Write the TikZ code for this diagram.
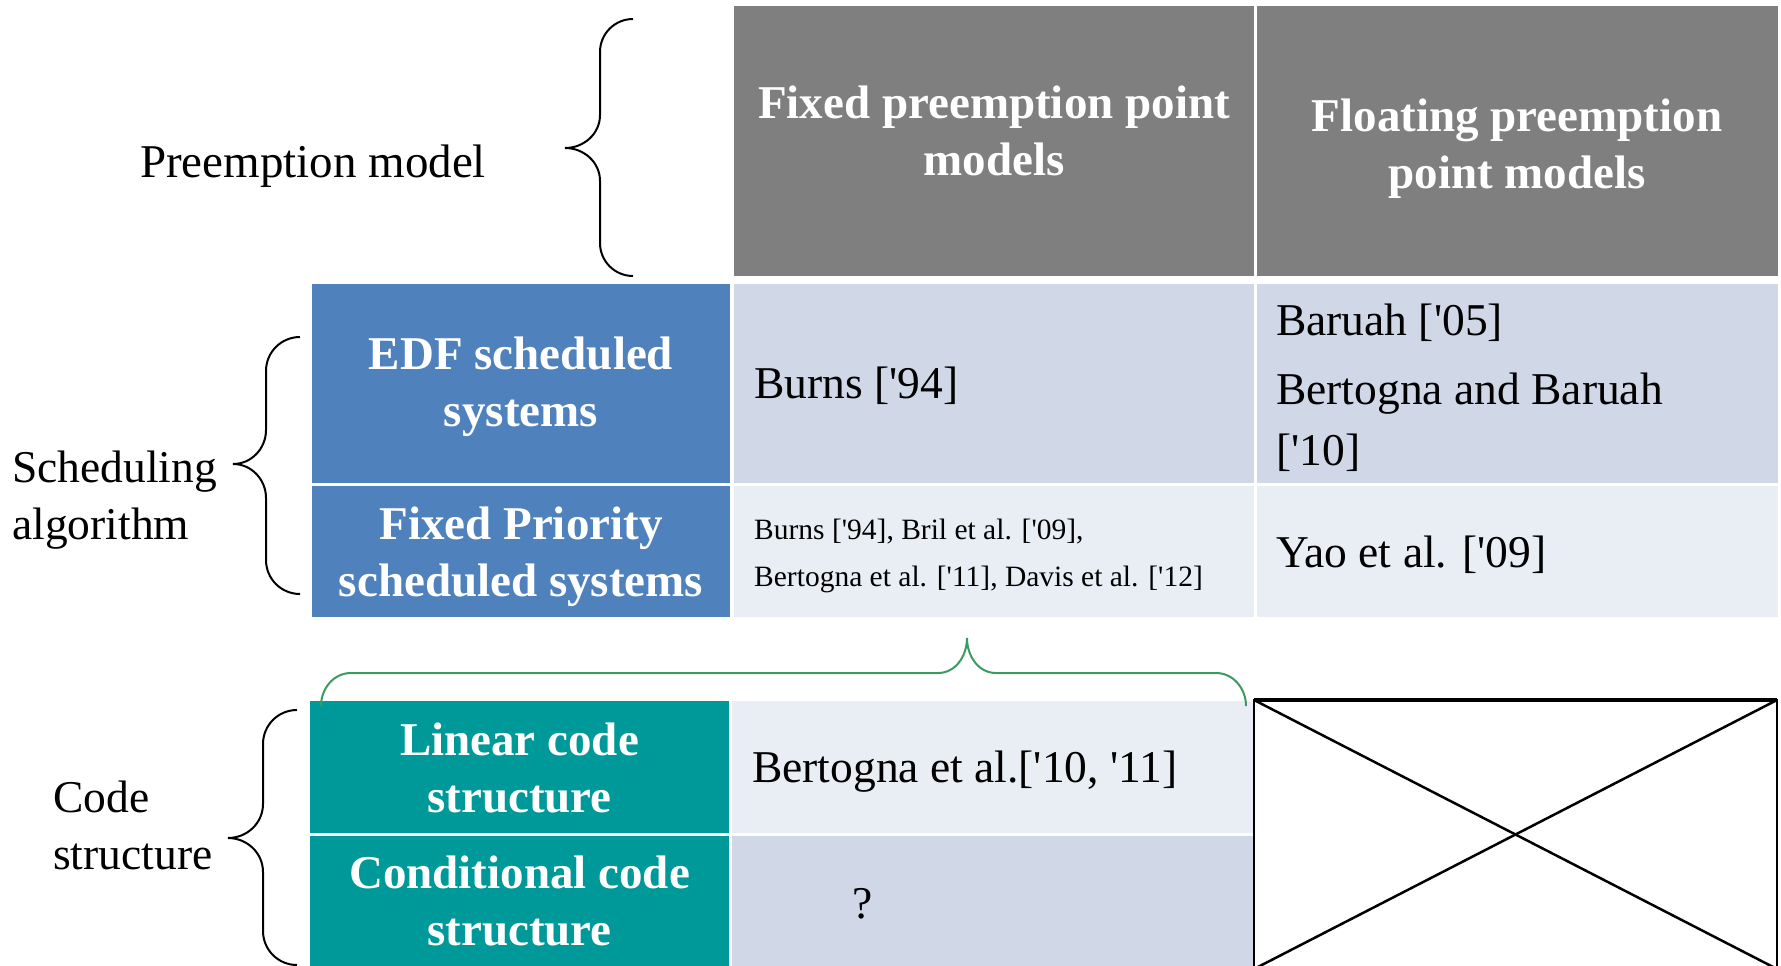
\documentclass[tikz,border=0pt]{standalone}
\usepackage{fontspec}
\setmainfont{Liberation Serif}[Ligatures=TeXOff]
\definecolor{hdrgray}{RGB}{127,127,127}
\definecolor{algblue}{RGB}{79,129,189}
\definecolor{codeteal}{RGB}{0,153,153}
\definecolor{cellA}{RGB}{208,216,232}
\definecolor{cellB}{RGB}{233,237,244}
\definecolor{bracegreen}{RGB}{58,154,98}
\begin{document}
\begin{tikzpicture}[x=1pt,y=-1pt,
  cell/.style={draw=none,inner sep=0pt,outer sep=0pt,anchor=north west},
  big/.style={font=\fontsize{47}{57}\selectfont,inner sep=0pt,anchor=base},
  head/.style={big,font=\fontsize{47}{57}\selectfont\bfseries,text=white,align=center},
  entry/.style={big,font=\fontsize{45.5}{57}\selectfont,anchor=base west,align=left},
  side/.style={big,font=\fontsize{45.5}{57}\selectfont,anchor=base west,align=left},
  small/.style={inner sep=0pt,anchor=base west,align=left,font=\fontsize{29.5}{47}\selectfont},
  brace/.style={draw=black,line width=2pt},
  gbrace/.style={draw=bracegreen,line width=2pt}]
\useasboundingbox (0,0) rectangle (1781,966);
\clip (0,0) rectangle (1781,966);

% header row
\node[cell,fill=hdrgray,minimum width=520pt,minimum height=270pt] (h1) at (734,6) {};
\node[cell,fill=hdrgray,minimum width=521pt,minimum height=270pt] (h2) at (1257,6) {};
% scheduling algorithm rows
\node[cell,fill=algblue,minimum width=418pt,minimum height=199pt] (r1) at (312,284) {};
\node[cell,fill=cellA,minimum width=520pt,minimum height=199pt] (c11) at (734,284) {};
\node[cell,fill=cellA,minimum width=521pt,minimum height=199pt] (c12) at (1257,284) {};
\node[cell,fill=algblue,minimum width=418pt,minimum height=131pt] (r2) at (312,486) {};
\node[cell,fill=cellB,minimum width=520pt,minimum height=131pt] (c21) at (734,486) {};
\node[cell,fill=cellB,minimum width=521pt,minimum height=131pt] (c22) at (1257,486) {};
% code structure rows
\node[cell,fill=codeteal,minimum width=419pt,minimum height=132pt] (r3) at (310,701) {};
\node[cell,fill=cellB,minimum width=522pt,minimum height=132pt] (c31) at (732,701) {};
\node[cell,fill=codeteal,minimum width=419pt,minimum height=135pt] (r4) at (310,836) {};
\node[cell,fill=cellA,minimum width=522pt,minimum height=135pt] (c41) at (732,836) {};

% crossed-out box
\node[cell,draw=black,line width=2.5pt,minimum width=523pt,minimum height=269pt] (xb) at (1254,700) {};
\draw[line width=2.5pt] (xb.north west) -- (xb.south east);
\draw[line width=2.5pt] (xb.south west) -- (xb.north east);
\draw[line width=3.5pt] (xb.north west) -- (xb.north east);

% header texts (anchored at the baseline of their last line)
\node[head] (th1) at (994,175) {Fixed preemption point\\models};
\node[head] (th2) at (1517,188) {Floating preemption\\point models};
\node[head] (tr1) at (521,426) {EDF scheduled\\systems};
\node[head] (tr2) at (521,596) {Fixed Priority\\scheduled systems};
\node[head] (tr3) at (519.5,812) {Linear code\\structure};
\node[head] (tr4) at (519.5,945) {Conditional code\\structure};

% table entries
\node[entry] (e11) at (754,398) {Burns ['94]};
\node[entry] (e12a) at (1276,335) {Baruah ['05]};
\node[entry] (e12b) at (1276,465) {Bertogna and Baruah\\[4pt]['10]};
\node[small] (e21) at (754,586) {Burns ['94], Bril et al. ['09],\\Bertogna et al. ['11], Davis et al. ['12]};
\node[entry] (e22) at (1276,567) {Yao et al. ['09]};
\node[entry] (e31) at (752,782) {Bertogna et al.['10, '11]};
\node[entry] (e41) at (852,918) {?};

% side labels
\node[big] (lpm) at (313,177) {Preemption model};
\node[side] (lsa) at (12,539) {Scheduling\\algorithm};
\node[side] (lcs) at (53,869) {Code\\structure};

% braces
\draw[brace] (633,19) to[out=180,in=90] (600,52) -- (600,115)
  to[out=-90,in=0] (565,148) to[out=0,in=90] (600,181) -- (600,243)
  to[out=-90,in=180] (633,276);
\draw[brace] (300,337) to[out=180,in=90] (266,371) -- (266,430)
  to[out=-90,in=0] (233,464) to[out=0,in=90] (266,498) -- (266,560)
  to[out=-90,in=180] (300,594);
\draw[brace] (297,710) to[out=180,in=90] (263,744) -- (263,804)
  to[out=-90,in=0] (228,838) to[out=0,in=90] (263,872) -- (263,931)
  to[out=-90,in=180] (297,965);
\draw[gbrace] (321,706) to[out=90,in=180] (351,673) -- (938,673)
  to[out=0,in=-90] (967,638) to[out=-90,in=180] (996,673) -- (1216,673)
  to[out=0,in=90] (1246,706);
\end{tikzpicture}
\end{document}
